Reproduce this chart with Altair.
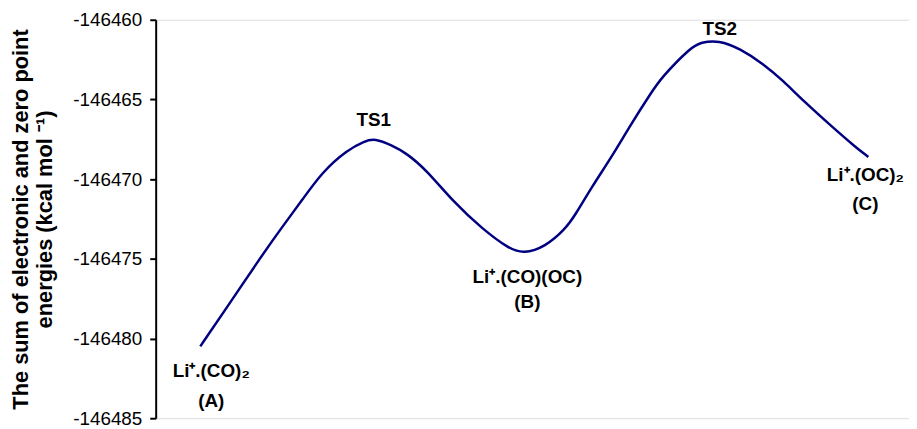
import altair as alt
import pandas as pd

# Reaction coordinate (arbitrary units) and energies
reaction_coord = [45, 71, 108, 128, 148, 168, 193, 211, 221, 238, 253, 273, 300, 330,
                  356, 371, 393, 413, 423, 440, 460, 480, 500, 510, 540, 550, 568, 590,
                  613, 633, 653, 683, 706, 719]
energy = [-146480.49, -146478.13, -146474.71, -146472.97, -146471.29, -146469.55,
          -146468.18, -146467.60, -146467.45, -146467.87, -146468.37, -146469.42,
          -146471.41, -146473.15, -146474.35, -146474.68, -146474.25, -146473.15,
          -146472.28, -146470.48, -146468.61, -146466.50, -146464.57, -146463.64,
          -146461.72, -146461.42, -146461.28, -146461.83, -146462.77, -146463.82,
          -146465.07, -146466.75, -146467.99, -146468.61]

# Annotation lines
labels = ["Li⁺.(CO)₂", "(A)", "TS1", "Li⁺.(CO)(OC)", "(B)", "TS2", "Li⁺.(OC)₂", "(C)"]
label_coord = [56, 56, 220, 375, 375, 569, 716, 716]
label_energy = [-146482.05, -146483.91, -146466.31, -146476.14, -146477.69,
                -146460.59, -146469.73, -146471.54]

y_ticks = [-146485, -146480, -146475, -146470, -146465, -146460]

curve = pd.DataFrame({"rc": reaction_coord, "E": energy})
ann = pd.DataFrame({"rc": label_coord, "E": label_energy, "label": labels})

x_scale = alt.Scale(domain=[0, 760], nice=False, zero=False)
y_scale = alt.Scale(domain=[-146485, -146460], nice=False, zero=False)

line = alt.Chart(curve).mark_line(color="#000080", strokeWidth=2.5, interpolate="basis").encode(
    x=alt.X("rc:Q", scale=x_scale, axis=None),
    y=alt.Y(
        "E:Q",
        scale=y_scale,
        axis=alt.Axis(
            values=y_ticks,
            labelExpr="'' + datum.value",
            title=["The sum of electronic and zero point", "energies (kcal mol ⁻¹)"],
            titleFont="Liberation Sans",
            titleFontSize=22,
            titleFontWeight="bold",
            titleColor="black",
            titlePadding=16,
            titleLineHeight=25,
            labelFont="Liberation Sans",
            labelFontSize=19,
            labelColor="black",
            labelPadding=8,
            tickSize=6,
            tickWidth=2,
            tickColor="black",
            domainColor="black",
            domainWidth=2,
            grid=False,
        ),
    ),
)

text = alt.Chart(ann).mark_text(
    font="Liberation Sans", fontSize=19, fontWeight="bold", color="black",
    align="center", baseline="middle"
).encode(
    x=alt.X("rc:Q", scale=x_scale),
    y=alt.Y("E:Q", scale=y_scale),
    text="label:N",
)

chart = (line + text).properties(
    width=760,
    height=402,
    autosize=alt.AutoSizeParams(type="none"),
    padding={"left": 149, "top": 10, "right": 0, "bottom": 8},
).configure_view(stroke=None).configure(background="white")

chart.save("out.html", embed_options={"renderer": "svg", "actions": False})
